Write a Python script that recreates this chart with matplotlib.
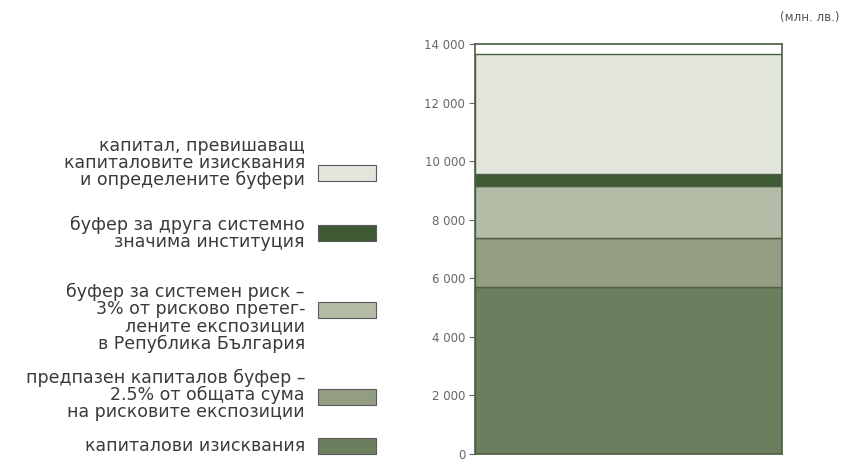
import matplotlib
matplotlib.use("Agg")
import matplotlib.pyplot as plt
from matplotlib.patches import Rectangle
from matplotlib.ticker import FuncFormatter

# ---- data (млн. лв.) ----
categories = [
    "капиталови изисквания",
    "предпазен капиталов буфер –\n2.5% от общата сума\nна рисковите експозиции",
    "буфер за системен риск –\n3% от рисково претег-\nлените експозиции\nв Република България",
    "буфер за друга системно\nзначима институция",
    "капитал, превишаващ\nкапиталовите изисквания\nи определените буфери",
]
values = [5700, 1660, 1790, 395, 4120]
colors = ["#6b7f5f", "#939d82", "#b4bba6", "#3f5b36", "#e1e5dc"]
y_ticks = [0, 2000, 4000, 6000, 8000, 10000, 12000, 14000]
unit_label = "(млн. лв.)"

W, H = 843, 463
fig = plt.figure(figsize=(W / 100, H / 100), dpi=100)
ax = fig.add_axes([475 / W, (H - 454) / H, (782 - 475) / W, (454 - 44) / H])

edge = "#4c5e44"
bottom = 0
for v, c in zip(values, colors):
    ax.bar(0, v, width=1.0, bottom=bottom, color=c, edgecolor=edge, linewidth=1.0)
    bottom += v

ax.set_xlim(-0.5, 0.5)
ax.set_ylim(0, 14000)
ax.set_xticks([])
ax.set_yticks(y_ticks)
ax.yaxis.set_major_formatter(FuncFormatter(lambda v, p: f"{int(v):,}".replace(",", " ")))
ax.tick_params(axis="y", direction="out", length=4, width=0.8, color="#666666",
               labelsize=8.5, labelcolor="#666666", pad=3)
for s in ax.spines.values():
    s.set_color(edge)
    s.set_linewidth(1.2)

fig.text(840 / W, 1 - 18 / H, unit_label, ha="right", va="center",
         fontsize=8.5, color="#555555")

# ---- manual legend (top entry first) ----
text_y = [163, 233, 318, 395, 446]
patch_y = [173, 233, 310, 397, 446]
order = list(range(len(categories)))[::-1]
for (i, ty, py) in zip(order, text_y, patch_y):
    fig.text(305 / W, 1 - ty / H, categories[i], ha="right", va="center",
             fontsize=12.5, color="#3a3a3a", linespacing=0.93)
    fig.patches.append(Rectangle((318 / W, 1 - (py + 8) / H), 58 / W, 16 / H,
                                 transform=fig.transFigure, facecolor=colors[i],
                                 edgecolor="#5a5a5a", linewidth=0.8))

fig.savefig("out.png", dpi=100)
